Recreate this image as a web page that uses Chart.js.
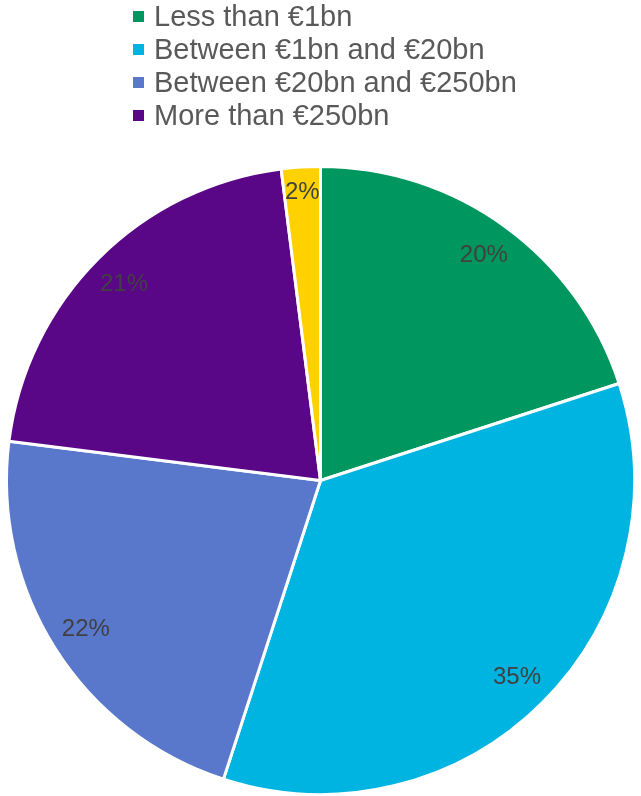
<!DOCTYPE html>
<html>
<head>
<meta charset="utf-8">
<script src="https://cdn.jsdelivr.net/npm/chart.js@4/dist/chart.umd.min.js"></script>
<style>
  html, body { margin: 0; padding: 0; background: #ffffff; }
  #wrap { position: relative; width: 641px; height: 796px; }
  #chart { position: absolute; left: 0; top: 0; }
  #legend { position: absolute; left: 133px; top: 0; margin: 0; padding: 0; list-style: none;
            font-family: "Liberation Sans", Arial, sans-serif; font-size: 29px; color: #595959; }
  #legend li { height: 33px; line-height: 33px; white-space: nowrap; display: flex; align-items: center; }
  #legend .box { display: inline-block; width: 11px; height: 11px; margin-right: 10px; }
</style>
</head>
<body>
<div id="wrap">
  <canvas id="chart" width="641" height="796"></canvas>
  <ul id="legend"></ul>
</div>
<script>
// Bank size categories and their share of respondents (%)
const categories = ["Less than €1bn", "Between €1bn and €20bn", "Between €20bn and €250bn", "More than €250bn", "Not specified"];
const shares = [20, 35, 22, 21, 2];
const sliceColors = ["#00965f", "#00b4e1", "#5a78cb", "#5a0787", "#ffd100"];
// Only the first four categories appear in the key
const legendCount = 4;

// Key above the pie
const legendEl = document.getElementById("legend");
for (let i = 0; i < legendCount; i++) {
  const li = document.createElement("li");
  const box = document.createElement("span");
  box.className = "box";
  box.style.background = sliceColors[i];
  li.appendChild(box);
  li.appendChild(document.createTextNode(categories[i]));
  legendEl.appendChild(li);
}

// Percentage labels placed inside each slice
const sliceLabels = {
  id: "sliceLabels",
  afterDatasetsDraw(chart) {
    const ctx = chart.ctx;
    const meta = chart.getDatasetMeta(0);
    ctx.save();
    ctx.font = '24px "Liberation Sans", Arial, sans-serif';
    ctx.fillStyle = "#404040";
    ctx.textAlign = "center";
    ctx.textBaseline = "middle";
    meta.data.forEach((arc, i) => {
      const p = arc.getProps(["x", "y", "startAngle", "endAngle", "outerRadius"], true);
      const mid = (p.startAngle + p.endAngle) / 2;
      const r = p.outerRadius * (shares[i] < 5 ? 0.92 : 0.885);
      ctx.fillText(shares[i] + "%", p.x + Math.cos(mid) * r, p.y + Math.sin(mid) * r);
    });
    ctx.restore();
  }
};

new Chart(document.getElementById("chart"), {
  type: "pie",
  data: {
    labels: categories,
    datasets: [{
      data: shares,
      backgroundColor: sliceColors,
      borderColor: "#ffffff",
      borderWidth: 3
    }]
  },
  options: {
    responsive: false,
    animation: false,
    layout: { padding: { top: 165, bottom: 0, left: 0, right: 0 } },
    plugins: {
      legend: { display: false },
      tooltip: { enabled: false }
    }
  },
  plugins: [sliceLabels]
});
</script>
</body>
</html>
